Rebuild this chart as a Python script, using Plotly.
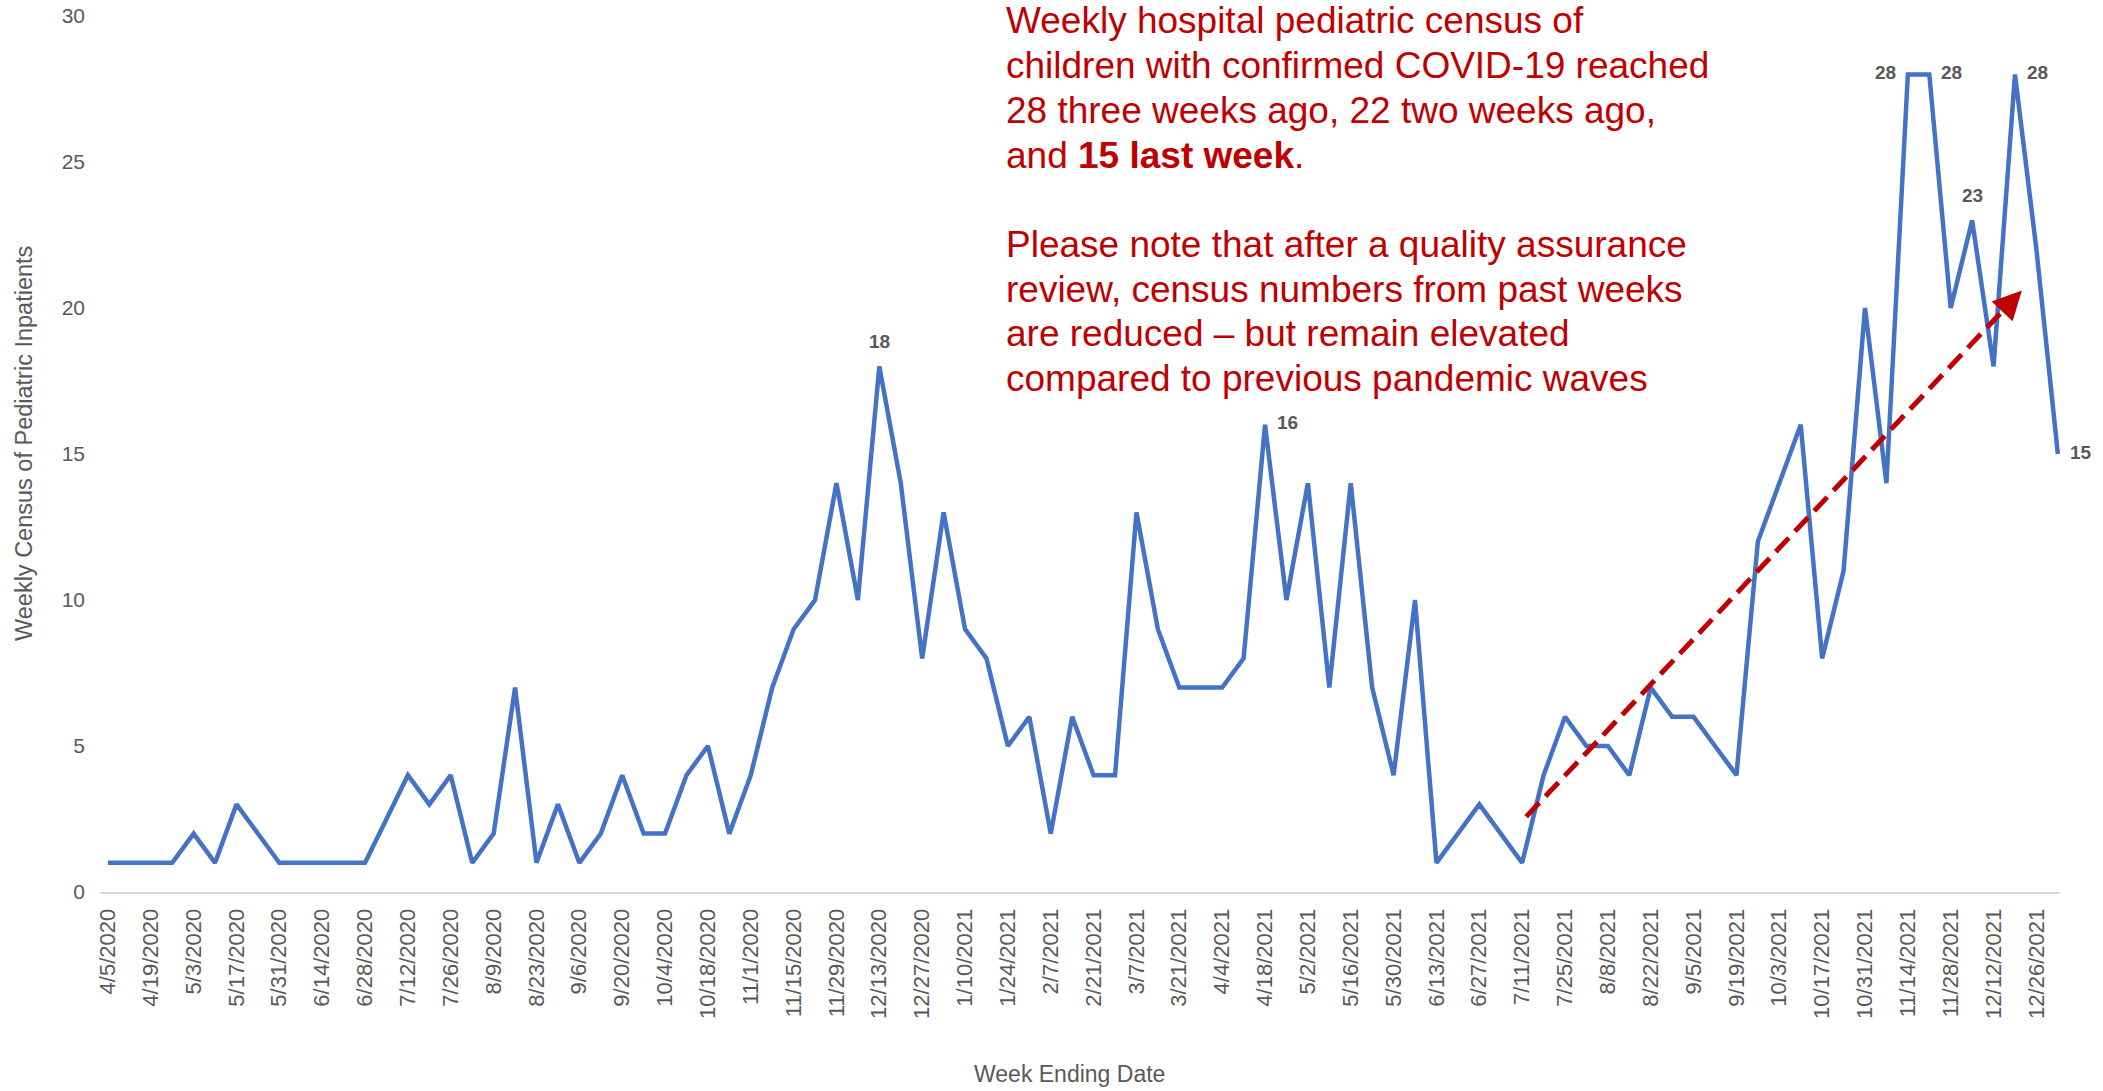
import plotly.graph_objects as go

weeks = [
    "4/5/2020", "4/12/2020", "4/19/2020", "4/26/2020", "5/3/2020", "5/10/2020", "5/17/2020", "5/24/2020",
    "5/31/2020", "6/7/2020", "6/14/2020", "6/21/2020", "6/28/2020", "7/5/2020", "7/12/2020", "7/19/2020",
    "7/26/2020", "8/2/2020", "8/9/2020", "8/16/2020", "8/23/2020", "8/30/2020", "9/6/2020", "9/13/2020",
    "9/20/2020", "9/27/2020", "10/4/2020", "10/11/2020", "10/18/2020", "10/25/2020", "11/1/2020", "11/8/2020",
    "11/15/2020", "11/22/2020", "11/29/2020", "12/6/2020", "12/13/2020", "12/20/2020", "12/27/2020",
    "1/3/2021", "1/10/2021", "1/17/2021", "1/24/2021", "1/31/2021", "2/7/2021", "2/14/2021", "2/21/2021",
    "2/28/2021", "3/7/2021", "3/14/2021", "3/21/2021", "3/28/2021", "4/4/2021", "4/11/2021", "4/18/2021",
    "4/25/2021", "5/2/2021", "5/9/2021", "5/16/2021", "5/23/2021", "5/30/2021", "6/6/2021", "6/13/2021",
    "6/20/2021", "6/27/2021", "7/4/2021", "7/11/2021", "7/18/2021", "7/25/2021", "8/1/2021", "8/8/2021",
    "8/15/2021", "8/22/2021", "8/29/2021", "9/5/2021", "9/12/2021", "9/19/2021", "9/26/2021", "10/3/2021",
    "10/10/2021", "10/17/2021", "10/24/2021", "10/31/2021", "11/7/2021", "11/14/2021", "11/21/2021",
    "11/28/2021", "12/5/2021", "12/12/2021", "12/19/2021", "12/26/2021", "1/2/2022",
]

census = [
    1, 1, 1, 1, 2, 1, 3, 2, 1, 1, 1, 1, 1,
    2.5,
    4, 3, 4, 1, 2, 7, 1, 3, 1, 2, 4,
    2, 2, 4, 5, 2, 4, 7, 9, 10, 14, 10, 18, 14, 8, 13, 9, 8, 5, 6, 2, 6, 4, 4,
    13, 9, 7, 7, 7, 8, 16, 10, 14, 7, 14, 7, 4, 10, 1, 2, 3, 2, 1,
    4, 6, 5, 5, 4, 7, 6, 6, 5, 4, 12, 14, 16, 8, 11, 20, 14, 28, 28, 20, 23, 18, 28, 22, 15,
]

tick_labels = weeks[0:91:2]
y_ticks = [0, 5, 10, 15, 20, 25, 30]

# data labels: week and side of the point
labelled_weeks = ["12/13/2020", "4/18/2021", "11/14/2021", "11/21/2021", "12/5/2021", "12/19/2021", "1/2/2022"]
label_pos = ["top", "right", "left", "right", "top", "right", "right"]

# trend arrow (week index, value) endpoints
trend_start = (66.19, 2.58)
trend_end = (89.32, 20.6)

note_lines = [
    "Weekly hospital pediatric census of",
    "children with confirmed COVID-19 reached",
    "28 three weeks ago, 22 two weeks ago,",
    "and <b>15 last week</b>.",
    "",
    "Please note that after a quality assurance",
    "review, census numbers from past weeks",
    "are reduced \u2013 but remain elevated",
    "compared to previous pandemic waves",
]

FONT = "Liberation Sans, Arial, sans-serif"
GRAY = "#595959"
RED = "#C00000"

W, H = 2103, 1091
PLOT_L, PLOT_W = 100, 1960
PLOT_TOP, PLOT_H = 16, 876

fig = go.Figure()
fig.add_trace(go.Scatter(
    x=weeks, y=census, mode="lines",
    line=dict(color="#4472C4", width=4.5),
    showlegend=False, hoverinfo="x+y",
))

annotations = []
for wk, pos in zip(labelled_weeks, label_pos):
    v = census[weeks.index(wk)]
    a = dict(x=wk, y=v, xref="x", yref="y", text=str(v), showarrow=False,
             font=dict(family=FONT, size=19, color=GRAY, weight="bold"))
    if pos == "top":
        a.update(yanchor="bottom", xanchor="center", yshift=12)
    elif pos == "right":
        a.update(xanchor="left", yanchor="middle", xshift=10, yshift=2)
    elif pos == "left":
        a.update(xanchor="right", yanchor="middle", xshift=-10, yshift=2)
    annotations.append(a)


def paper_x(px):
    return (px - PLOT_L) / PLOT_W


def paper_y(px):
    return (PLOT_TOP + PLOT_H - px) / PLOT_H


line_gap = 44.7
first_center = 21
for i, txt in enumerate(note_lines):
    if not txt:
        continue
    annotations.append(dict(
        x=paper_x(1004), y=paper_y(first_center + i * line_gap),
        xref="paper", yref="paper", xanchor="left", yanchor="middle",
        align="left", showarrow=False, text=txt,
        font=dict(family=FONT, size=37, color=RED),
    ))

# axis titles
annotations.append(dict(
    x=paper_x(1069), y=paper_y(1074), xref="paper", yref="paper",
    xanchor="center", yanchor="middle", showarrow=False, text="Week Ending Date",
    font=dict(family=FONT, size=23, color=GRAY),
))
annotations.append(dict(
    x=paper_x(24), y=paper_y(444), xref="paper", yref="paper",
    xanchor="center", yanchor="middle", showarrow=False, textangle=-90,
    text="Weekly Census of Pediatric Inpatients",
    font=dict(family=FONT, size=23.5, color=GRAY),
))

# arrow head of the trend line
dx = trend_end[0] - trend_start[0]
dy = trend_end[1] - trend_start[1]
annotations.append(dict(
    x=trend_end[0], y=trend_end[1], xref="x", yref="y",
    ax=trend_end[0] - dx * 0.03, ay=trend_end[1] - dy * 0.03, axref="x", ayref="y",
    showarrow=True, arrowhead=2, arrowsize=1.15, arrowwidth=5, arrowcolor=RED, text="",
))

fig.add_shape(
    type="line", xref="x", yref="y",
    x0=trend_start[0], y0=trend_start[1],
    x1=trend_start[0] + dx * 0.975, y1=trend_start[1] + dy * 0.975,
    line=dict(color=RED, width=5, dash="19px,9px"),
)

fig.update_layout(
    width=W, height=H,
    margin=dict(l=PLOT_L, r=W - PLOT_L - PLOT_W, t=PLOT_TOP, b=H - PLOT_TOP - PLOT_H),
    plot_bgcolor="white", paper_bgcolor="white",
    font=dict(family=FONT, color=GRAY),
    annotations=annotations,
    xaxis=dict(
        type="category", range=[-0.37, 91.1],
        tickmode="array", tickvals=tick_labels, ticktext=tick_labels,
        tickangle=-90, tickfont=dict(size=22, color=GRAY, family=FONT),
        showgrid=False, zeroline=False,
        showline=True, linecolor="#D9D9D9", linewidth=2,
        ticks="", ticklabelstandoff=6,
        automargin=False,
    ),
    yaxis=dict(
        range=[0, 30], tickmode="array", tickvals=y_ticks,
        tickfont=dict(size=21, color=GRAY, family=FONT),
        showgrid=False, zeroline=False, showline=False, ticks="",
        ticklabelstandoff=14,
        automargin=False,
    ),
)

fig.write_html(
    "out.html",
    config={"displayModeBar": False},
    post_script="document.body.style.margin='0';document.body.style.overflow='hidden';",
)
